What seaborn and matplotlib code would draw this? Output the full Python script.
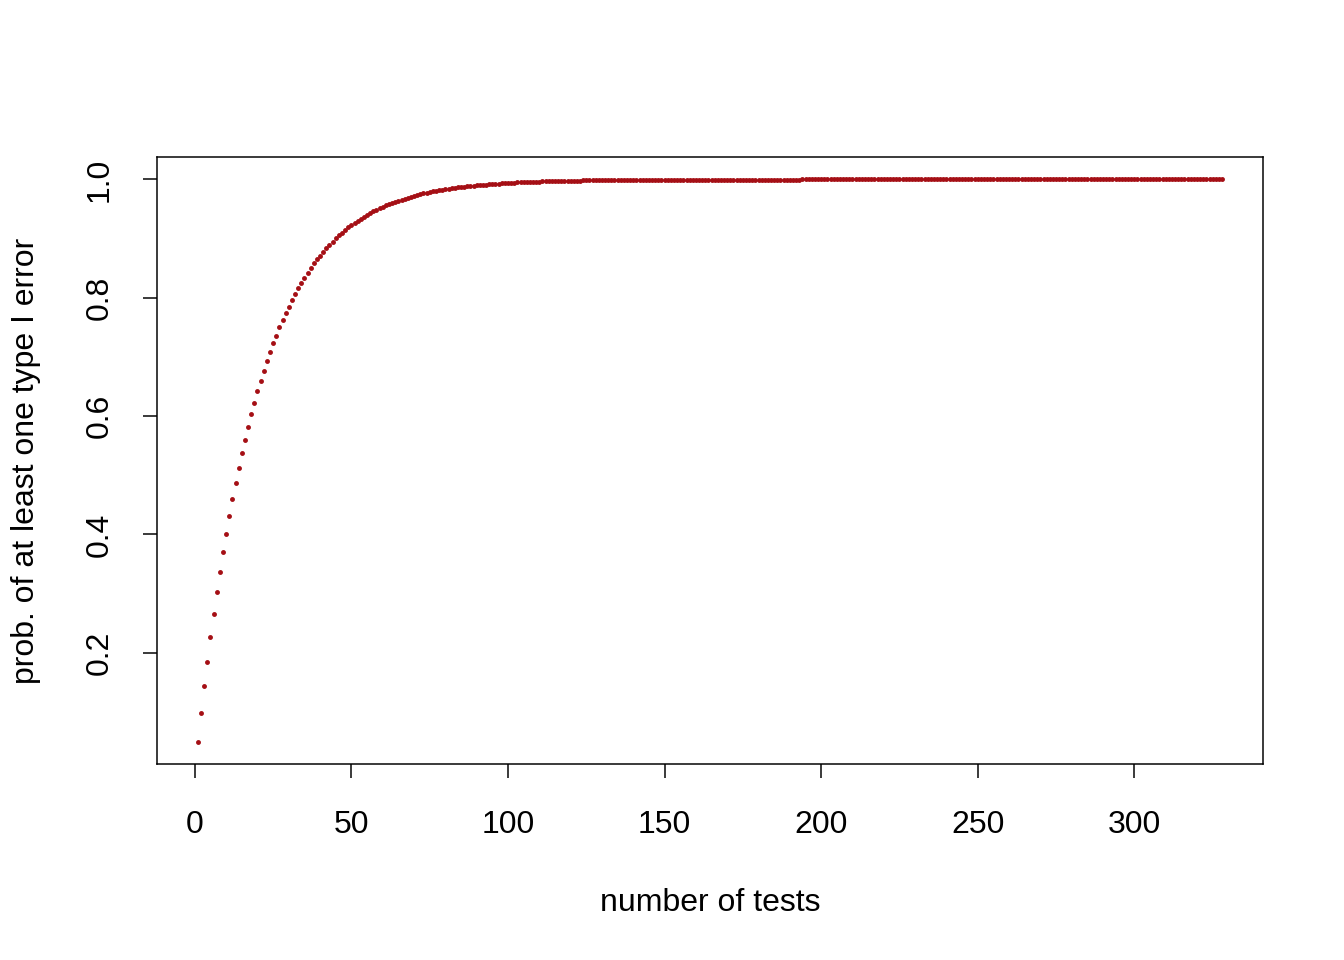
import numpy as np
import pandas as pd
import seaborn as sns
import matplotlib.pyplot as plt

# number of tests 1..328 and read-off probabilities
n_tests = list(range(1, 329))
prob_early = [
    0.050, 0.098, 0.143, 0.185, 0.226, 0.265, 0.302, 0.337, 0.370, 0.401,
    0.431, 0.460, 0.487, 0.512, 0.537, 0.560, 0.582, 0.603, 0.623, 0.642,
    0.659, 0.676, 0.693, 0.708, 0.723, 0.736, 0.750, 0.762, 0.774, 0.785,
    0.796, 0.806, 0.816, 0.825, 0.834, 0.842, 0.850, 0.858, 0.865, 0.871,
    0.878, 0.884, 0.890, 0.895, 0.901, 0.906, 0.910, 0.915, 0.919,
]
prob_mid = [
    0.9231, 0.9269, 0.9306, 0.9340, 0.9373, 0.9405, 0.9434, 0.9463, 0.9490, 0.9515,
    0.9539, 0.9562, 0.9584, 0.9605, 0.9625, 0.9644, 0.9661, 0.9678, 0.9694, 0.9710,
    0.9724, 0.9738, 0.9751, 0.9764, 0.9775, 0.9787, 0.9797, 0.9807, 0.9817, 0.9826,
    0.9835, 0.9843, 0.9851, 0.9858, 0.9865, 0.9872, 0.9879, 0.9885, 0.9890, 0.9896,
    0.9901, 0.9906, 0.9911, 0.9915, 0.9919, 0.9923, 0.9927, 0.9931, 0.9934, 0.9938,
    0.9941, 0.9944, 0.9947, 0.9949, 0.9952, 0.9954, 0.9956, 0.9959, 0.9961, 0.9963,
    0.9965, 0.9966, 0.9968, 0.9970, 0.9971, 0.9973, 0.9974, 0.9975, 0.9976, 0.9978,
    0.9979, 0.9980, 0.9981, 0.9982, 0.9983, 0.9984, 0.9984, 0.9985, 0.9986, 0.9987,
    0.9987, 0.9988, 0.9989, 0.9989, 0.9990, 0.9990, 0.9991, 0.9991, 0.9992, 0.9992,
    0.9992, 0.9993, 0.9993, 0.9993, 0.9994, 0.9994, 0.9994, 0.9995, 0.9995, 0.9995,
    0.9995, 0.9996, 0.9996, 0.9996, 0.9996, 0.9996, 0.9997, 0.9997, 0.9997, 0.9997,
    0.9997,
]
prob_late = [0.9998] * 11 + [0.9999] * 22 + [1.0] * 135
prob = prob_early + prob_mid + prob_late

x_ticks = [0, 50, 100, 150, 200, 250, 300]
y_ticks = [0.2, 0.4, 0.6, 0.8, 1.0]

df = pd.DataFrame({'tests': n_tests, 'prob': prob})

sns.set_theme(style="ticks")
plt.rcParams['font.family'] = ['Liberation Sans', 'DejaVu Sans']

fig = plt.figure(figsize=(1344 / 144, 960 / 144), dpi=144)
ax = fig.add_axes([157 / 1344, 1 - 764 / 960, (1263 - 157) / 1344, (764 - 157) / 960])

sns.scatterplot(data=df, x='tests', y='prob', ax=ax, s=6, color='#A50F15',
                linewidth=0, legend=False)

# R-style 4% padding
ax.set_xlim(1 - 0.04 * 327, 328 + 0.04 * 327)
ax.set_ylim(0.05 - 0.04 * 0.95, 1.0 + 0.04 * 0.95)
ax.set_xticks(x_ticks)
ax.set_yticks(y_ticks)
ax.set_xticklabels([str(t) for t in x_ticks])
ax.set_yticklabels([f"{t:.1f}" for t in y_ticks], rotation=90, va='center')

for sp in ax.spines.values():
    sp.set_visible(True)
    sp.set_color('black')
    sp.set_linewidth(0.75)

ax.tick_params(axis='both', direction='out', length=7, width=0.75, color='black',
               labelsize=16, labelcolor='black', pad=16)
ax.tick_params(axis='y', pad=14)
ax.set_xlabel('number of tests', fontsize=16, color='black', labelpad=24)
ax.set_ylabel('prob. of at least one type I error', fontsize=16, color='black', labelpad=22)

fig.savefig('out.png', dpi=144, facecolor='white')
